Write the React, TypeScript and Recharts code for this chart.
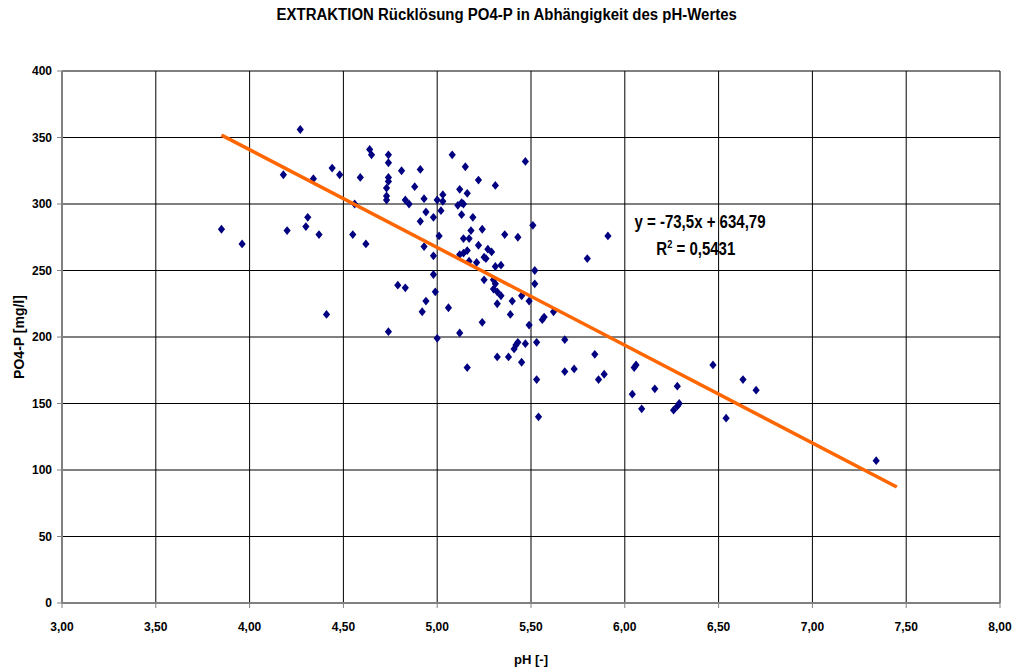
import {
  ScatterChart,
  Scatter,
  XAxis,
  YAxis,
  CartesianGrid,
} from 'recharts';

// pH / PO4-P pairs
const phValues = [
  3.85, 3.96, 4.27, 4.18, 4.34, 4.44, 4.48, 4.59, 4.64, 4.65,
  4.74, 4.74, 4.74, 4.74, 4.73, 4.73, 4.73, 4.81, 4.83, 4.85,
  4.88, 4.56, 4.2, 4.31, 4.3, 4.37, 4.55, 4.62, 4.79, 4.83,
  4.41, 4.74, 4.91, 5.08, 5.15, 5.47, 5.22, 5.31, 5.12, 5.16,
  5.03, 4.93, 5.0, 5.03, 5.11, 5.13, 5.14, 4.94, 5.02, 5.13,
  5.19, 4.91, 4.98, 5.51, 5.24, 5.18, 5.36, 5.43, 5.01, 5.14,
  5.17, 4.93, 5.22, 5.27, 5.29, 5.16, 5.12, 5.14, 4.98, 5.25,
  5.26, 5.17, 5.21, 5.31, 5.34, 4.98, 5.52, 5.52, 5.25, 5.3,
  5.31, 5.3, 5.32, 4.99, 5.34, 5.45, 5.49, 5.4, 4.94, 5.32,
  4.92, 5.06, 5.39, 5.62, 5.56, 5.57, 5.24, 5.49, 5.12, 5.0,
  5.43, 5.42, 5.41, 5.47, 5.53, 5.32, 5.38, 5.45, 5.16, 5.53,
  5.54, 5.91, 5.8, 5.68, 5.84, 5.68, 5.73, 5.86, 5.89, 6.05,
  6.06, 6.04, 6.09, 6.16, 6.28, 6.26, 6.28, 6.29, 6.47, 6.54,
  6.63, 6.7, 7.34,
];
const po4Values = [
  281, 270, 356, 322, 319, 327, 322, 320, 341, 337,
  337, 331, 320, 317, 312, 306, 303, 325, 303, 300,
  313, 300, 280, 290, 283, 277, 277, 270, 239, 237,
  217, 204, 326, 337, 328, 332, 318, 314, 311, 308,
  307, 304, 303, 302, 299, 301, 300, 294, 295, 292,
  290, 287, 290, 284, 281, 280, 277, 275, 276, 274,
  274, 268, 269, 266, 264, 265, 262, 263, 261, 260,
  259, 257, 256, 253, 254, 247, 250, 240, 243, 243,
  240, 236, 234, 234, 231, 231, 227, 227, 227, 225,
  219, 222, 217, 219, 213, 215, 211, 209, 203, 199,
  196, 194, 191, 195, 196, 185, 185, 181, 177, 168,
  140, 276, 259, 198, 187, 174, 176, 168, 172, 177,
  179, 157, 146, 161, 163, 145, 148, 150, 179, 139,
  168, 160, 107,
];

// linear trend line y = slope * x + intercept
const trendSlope = -73.5;
const trendIntercept = 634.79;
const trendRange = [3.85, 7.45];

const xTicks = [3, 3.5, 4, 4.5, 5, 5.5, 6, 6.5, 7, 7.5, 8];
const yTicks = [0, 50, 100, 150, 200, 250, 300, 350, 400];

const points = phValues.map((ph, i) => ({ ph, po4: po4Values[i] }));
const trendPoints = trendRange.map((ph) => ({ ph, po4: trendSlope * ph + trendIntercept }));

const FONT = '"Liberation Sans", Arial, sans-serif';

// Excel-style diamond marker, centred on the position recharts computes
function Diamond(props: any) {
  const { cx, cy } = props;
  if (cx == null || cy == null) return <g />;
  const w = 3.6;
  const h = 4.4;
  return (
    <polygon
      points={`${cx},${cy - h} ${cx + w},${cy} ${cx},${cy + h} ${cx - w},${cy}`}
      fill="#000080"
    />
  );
}

function YTitle() {
  return (
    <text
      x={19}
      y={337}
      transform="rotate(-90 19 337)"
      textAnchor="middle"
      dominantBaseline="central"
      fontFamily={FONT}
      fontWeight="bold"
      fontSize={14}
      fill="#000"
    >
      PO4-P [mg/l]
    </text>
  );
}

export default function App() {
  const tickStyle = { fill: '#000', fontSize: 12, fontWeight: 'bold', fontFamily: FONT };
  return (
    <div style={{ position: 'relative', width: 1013, height: 670, background: '#fff', fontFamily: FONT }}>
      <style>{'body{margin:0}'}</style>
      <div
        style={{
          position: 'absolute',
          top: 6,
          left: 0,
          width: 1013,
          textAlign: 'center',
          fontSize: 16,
          fontWeight: 'bold',
          transform: 'scaleX(0.935)',
          transformOrigin: '510px 0',
        }}
      >
        EXTRAKTION Rücklösung PO4-P in Abhängigkeit des pH-Wertes
      </div>

      <ScatterChart width={1013} height={670} margin={{ top: 71, right: 13, bottom: 0, left: 0 }}>
        <CartesianGrid stroke="#000" strokeWidth={1} />
        <XAxis
          type="number"
          dataKey="ph"
          domain={[3, 8]}
          ticks={xTicks}
          interval={0}
          tickFormatter={(v: number) => v.toFixed(2).replace('.', ',')}
          height={67}
          tickSize={5}
          tickMargin={14}
          tick={tickStyle}
          axisLine={{ stroke: '#808080', strokeWidth: 2 }}
          tickLine={{ stroke: '#808080' }}
          label={{ value: 'pH [-]', position: 'insideBottom', offset: 6, fill: '#000', fontSize: 13, fontWeight: 'bold' }}
        />
        <YAxis
          type="number"
          dataKey="po4"
          domain={[0, 400]}
          ticks={yTicks}
          interval={0}
          width={62}
          tickSize={5}
          tickMargin={5}
          tick={tickStyle}
          axisLine={{ stroke: '#808080', strokeWidth: 2 }}
          tickLine={{ stroke: '#808080' }}
          label={<YTitle />}
        />
        <Scatter data={points} shape={<Diamond />} isAnimationActive={false} />
        <Scatter
          data={trendPoints}
          line={{ stroke: '#FF6600', strokeWidth: 3.5 }}
          shape={() => <g />}
          isAnimationActive={false}
        />
      </ScatterChart>

      <div
        style={{
          position: 'absolute',
          left: 600,
          top: 209,
          width: 200,
          textAlign: 'center',
          fontSize: 18,
          fontWeight: 'bold',
          lineHeight: '26.5px',
          transform: 'scaleX(0.834)',
          transformOrigin: '100px 0',
        }}
      >
        <div>y = -73,5x + 634,79</div>
        <div style={{ marginLeft: -10 }}>
          R<sup style={{ fontSize: 11, verticalAlign: 'super', lineHeight: 0 }}>2</sup> = 0,5431
        </div>
      </div>
    </div>
  );
}
